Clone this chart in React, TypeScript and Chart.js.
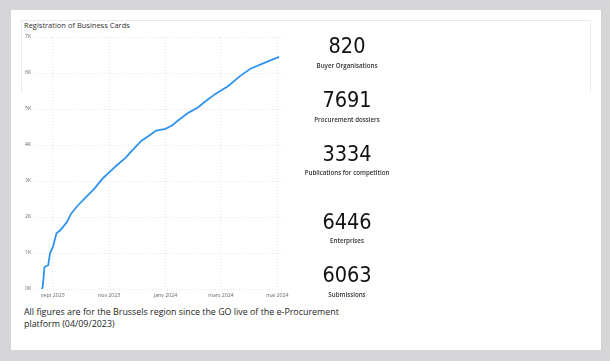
import React, { useEffect, useRef } from "react";
import { Chart, registerables } from "chart.js";

Chart.register(...registerables);

// Days since 1 Sept 2023, and cumulative registered business cards
const dayOffsets = [-12, -11, -9, -5, -3, 0, 4, 8, 15, 20, 27, 36, 45, 54, 61, 69, 79, 86, 96, 104, 112, 122, 129, 138, 147, 157, 166, 176, 190, 203, 214, 229, 245];
const cards = [0, 50, 610, 660, 1000, 1160, 1550, 1630, 1850, 2100, 2320, 2550, 2790, 3070, 3240, 3430, 3650, 3850, 4120, 4260, 4400, 4450, 4540, 4730, 4900, 5040, 5230, 5420, 5640, 5920, 6120, 6280, 6446];

const xTickDays = [0, 61, 122, 182, 243];
const xTickLabels = ["sept 2023", "nov 2023", "janv 2024", "mars 2024", "mai 2024"];

const kpiValues = ["820", "7691", "3334", "6446", "6063"];
const kpiLabels = ["Buyer Organisations", "Procurement dossiers", "Publications for competition", "Enterprises", "Submissions"];
const kpiCenters = [46, 100, 153.5, 221.5, 275];

export default function App() {
  const ref = useRef<HTMLCanvasElement>(null);

  useEffect(() => {
    if (!ref.current) return;
    const chart = new Chart(ref.current, {
      type: "line",
      data: {
        datasets: [
          {
            data: dayOffsets.map((d, i) => ({ x: d, y: cards[i] })),
            borderColor: "#2f93f0",
            borderWidth: 1.8,
            pointRadius: 0,
            tension: 0,
            fill: false,
          },
        ],
      },
      options: {
        animation: false,
        responsive: false,
        maintainAspectRatio: false,
        layout: { padding: { top: 6, right: 5, left: 0, bottom: 0 } },
        plugins: { legend: { display: false }, tooltip: { enabled: false } },
        scales: {
          x: {
            type: "linear",
            min: -19.3,
            max: 250.5,
            afterFit: (s: any) => {
              s.height = 13;
            },
            afterBuildTicks: (s: any) => {
              s.ticks = xTickDays.map((v) => ({ value: v }));
            },
            ticks: {
              autoSkip: false,
              maxRotation: 0,
              padding: 3.5,
              font: { size: 5.2, family: "Open Sans" },
              color: "#666",
              callback: (v: any) => {
                const i = xTickDays.indexOf(Number(v));
                return i >= 0 ? xTickLabels[i] : "";
              },
            },
            grid: { color: "#e4e4e4", lineWidth: 1, drawTicks: false },
            border: { display: false, dash: [1, 2] },
          },
          y: {
            min: 0,
            max: 7000,
            afterFit: (s: any) => {
              s.width = 15;
            },
            ticks: {
              stepSize: 1000,
              padding: 4,
              font: { size: 5, family: "Open Sans" },
              color: "#666",
              callback: (v: any) => `${Number(v) / 1000}K`,
            },
            grid: { color: "#e4e4e4", lineWidth: 1, drawTicks: false },
            border: { display: false, dash: [1, 2] },
          },
        },
      },
    });
    return () => chart.destroy();
  }, []);

  return (
    <div style={{ position: "fixed", left: 0, top: 0, width: 610, height: 361, background: "#d5d5d7", overflow: "hidden" }}>
      <div style={{ position: "absolute", left: 11, top: 10, width: 590, height: 340, background: "#fff" }} />
      <div
        style={{
          position: "absolute",
          left: 21,
          top: 20,
          width: 568,
          height: 72,
          borderTop: "1px solid #e8e8e8",
          borderLeft: "1px solid #ececec",
          borderRight: "1px solid #ececec",
        }}
      />
      <div
        style={{
          position: "absolute",
          left: 24,
          top: 19,
          fontFamily: "'Open Sans'",
          fontSize: 7.5,
          color: "#333",
          whiteSpace: "nowrap",
          lineHeight: "12px",
        }}
      >
        Registration of Business Cards
      </div>
      <canvas ref={ref} width={272} height={272} style={{ position: "absolute", left: 20, top: 30, width: 272, height: 272 }} />
      {kpiValues.map((v, i) => (
        <React.Fragment key={v}>
          <div
            style={{
              position: "absolute",
              left: 287,
              width: 120,
              top: kpiCenters[i] - 15,
              height: 30,
              lineHeight: "30px",
              textAlign: "center",
              fontFamily: "'DejaVu Sans Condensed', 'DejaVu Sans'",
              fontSize: 21.5,
              color: "#111",
            }}
          >
            {v}
          </div>
          <div
            style={{
              position: "absolute",
              left: 267,
              width: 160,
              top: kpiCenters[i] + 13.5,
              height: 12,
              lineHeight: "12px",
              textAlign: "center",
              fontFamily: "'Open Sans'",
              fontSize: 6.2,
              fontWeight: 600,
              color: "#333",
              whiteSpace: "nowrap",
            }}
          >
            {kpiLabels[i]}
          </div>
        </React.Fragment>
      ))}
      <div
        style={{
          position: "absolute",
          left: 24,
          top: 306,
          fontFamily: "'Open Sans'",
          fontSize: 8.9,
          lineHeight: "11.5px",
          color: "#252423",
          whiteSpace: "nowrap",
        }}
      >
        All figures are for the Brussels region since the GO live of the e-Procurement
        <br />
        platform (04/09/2023)
      </div>
    </div>
  );
}
